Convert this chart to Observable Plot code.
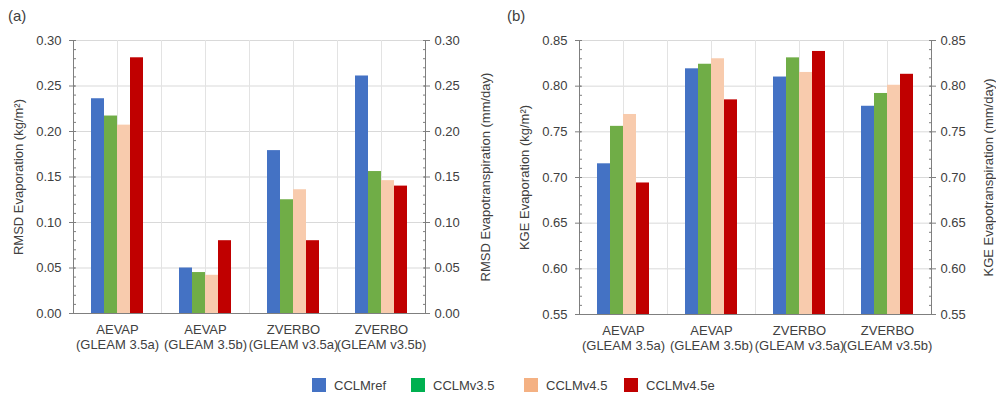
<!DOCTYPE html>
<html>
<head>
<meta charset="utf-8">
<script src="https://cdn.jsdelivr.net/npm/d3@7"></script>
<script src="https://cdn.jsdelivr.net/npm/@observablehq/plot@0.6"></script>
<style>
  html, body { margin: 0; padding: 0; background: #fff; }
  body { font-family: "Liberation Sans", Arial, sans-serif; color: #404040; }
  #root { position: relative; width: 996px; height: 394px; overflow: hidden; }
  .panel { position: absolute; top: 0; }
  .tag { position: absolute; top: 7px; font-size: 15px; color: #404040; }
  #legend { position: absolute; top: 377px; left: 0; width: 996px; height: 16px; font-size: 13px; }
  .item { position: absolute; top: 0; display: flex; align-items: center; height: 16px; }
  .sw { width: 14px; height: 14px; margin-right: 8px; }
</style>
</head>
<body>
<div id="root">
  <div class="panel" id="pa" style="left:0px"></div>
  <div class="panel" id="pb" style="left:506px"></div>
  <div class="tag" style="left:8px">(a)</div>
  <div class="tag" style="left:507px">(b)</div>
  <div id="legend"></div>
</div>
<script>
// ---- data ----
const categories = ["AEVAP\n(GLEAM 3.5a)", "AEVAP\n(GLEAM 3.5b)", "ZVERBO\n(GLEAM v3.5a)", "ZVERBO\n(GLEAM v3.5b)"];
const models = ["CCLMref", "CCLMv3.5", "CCLMv4.5", "CCLMv4.5e"];

const rmsdRef   = [0.236, 0.050, 0.179, 0.261];
const rmsdV35   = [0.217, 0.045, 0.125, 0.156];
const rmsdV45   = [0.207, 0.042, 0.136, 0.146];
const rmsdV45e  = [0.281, 0.080, 0.080, 0.140];

const kgeRef    = [0.715, 0.819, 0.810, 0.778];
const kgeV35    = [0.756, 0.824, 0.831, 0.792];
const kgeV45    = [0.769, 0.830, 0.815, 0.801];
const kgeV45e   = [0.694, 0.785, 0.838, 0.813];

const rmsdTicks = [0.00, 0.05, 0.10, 0.15, 0.20, 0.25, 0.30];
const kgeTicks  = [0.55, 0.60, 0.65, 0.70, 0.75, 0.80, 0.85];

const barColors    = ["#4472C4", "#70AD47", "#F8CBAD", "#C00000"];
const legendColors = ["#4472C4", "#00B050", "#F4B183", "#C00000"];
const legendX = [312, 411, 524, 624];

// ---- helpers ----
function minorTicks(ticks) {
  const lo = ticks[0], hi = ticks[ticks.length - 1];
  return d3.range(Math.round(lo * 100), Math.round(hi * 100) + 1).map(v => v / 100);
}

function panel({series, ticks, leftLabel, rightLabel, width, marginRight, marginBottom, rightOffset}) {
  const domain = [ticks[0], ticks[ticks.length - 1]];
  const rows = categories.flatMap((c, i) => models.map((m, j) => ({cat: c, model: m, value: series[j][i]})));
  const minor = minorTicks(ticks);
  const axisColor = "#7f7f7f";
  const fmt = d3.format(".2f");
  return Plot.plot({
    width, height: 354,
    marginLeft: 72, marginRight, marginTop: 40, marginBottom,
    style: {fontFamily: "'Liberation Sans', Arial, sans-serif", fontSize: "13px", color: "#404040", background: "white", overflow: "visible"},
    fx: {domain: categories, paddingInner: 0, paddingOuter: 0, label: null},
    x: {domain: models, paddingInner: 0, paddingOuter: 1.28, axis: null},
    y: {domain, label: null},
    color: {domain: models, range: barColors},
    marks: [
      Plot.gridY(ticks, {stroke: "#d9d9d9", strokeOpacity: 1}),
      Plot.frame({anchor: "left", stroke: "#e3e3e3"}),
      Plot.gridFx({stroke: "#e3e3e3", strokeOpacity: 1}),
      Plot.barY(rows, {fx: "cat", x: "model", y1: domain[0], y2: "value", fill: "model", inset: 0}),
      Plot.ruleY([domain[0]], {stroke: axisColor}),
      Plot.frame({anchor: "left", stroke: axisColor, facetAnchor: "left"}),
      Plot.frame({anchor: "right", stroke: axisColor, facetAnchor: "right"}),
      // left axis
      Plot.axisY(ticks, {anchor: "left", tickSize: 6, dx: 2, stroke: axisColor, tickFormat: () => "", label: null}),
      Plot.axisY(minor, {anchor: "left", tickSize: 3, dx: 3, stroke: axisColor, tickFormat: () => "", label: null}),
      Plot.axisY(ticks, {anchor: "left", tickSize: 0, tickPadding: 12, tickFormat: fmt, fill: "#404040",
        label: leftLabel, labelAnchor: "center", labelArrow: "none", labelOffset: 60}),
      // right axis
      Plot.axisY(ticks, {anchor: "right", tickSize: 6, dx: -2, stroke: axisColor, tickFormat: () => "", label: null}),
      Plot.axisY(minor, {anchor: "right", tickSize: 3, dx: -3, stroke: axisColor, tickFormat: () => "", label: null}),
      Plot.axisY(ticks, {anchor: "right", tickSize: 0, tickPadding: 9, tickFormat: fmt, fill: "#404040",
        label: rightLabel, labelAnchor: "center", labelArrow: "none", labelOffset: rightOffset}),
      // category axis
      Plot.axisFx({anchor: "bottom", tickSize: 0, tickPadding: 10, lineHeight: 1.15, fill: "#404040", label: null})
    ]
  });
}

document.getElementById("pa").appendChild(panel({
  series: [rmsdRef, rmsdV35, rmsdV45, rmsdV45e],
  ticks: rmsdTicks,
  leftLabel: "RMSD Evaporation (kg/m²)",
  rightLabel: "RMSD Evapotranspiration (mm/day)",
  width: 498, marginRight: 72, marginBottom: 41, rightOffset: 64
}));

document.getElementById("pb").appendChild(panel({
  series: [kgeRef, kgeV35, kgeV45, kgeV45e],
  ticks: kgeTicks,
  leftLabel: "KGE Evaporation (kg/m²)",
  rightLabel: "KGE Evapotranspiration (mm/day)",
  width: 490, marginRight: 64, marginBottom: 40, rightOffset: 61
}));

// ---- legend ----
const legend = document.getElementById("legend");
models.forEach((m, i) => {
  const item = document.createElement("div");
  item.className = "item";
  item.style.left = legendX[i] + "px";
  const sw = document.createElement("div");
  sw.className = "sw";
  sw.style.background = legendColors[i];
  const t = document.createElement("span");
  t.textContent = m;
  item.appendChild(sw);
  item.appendChild(t);
  legend.appendChild(item);
});
</script>
</body>
</html>
